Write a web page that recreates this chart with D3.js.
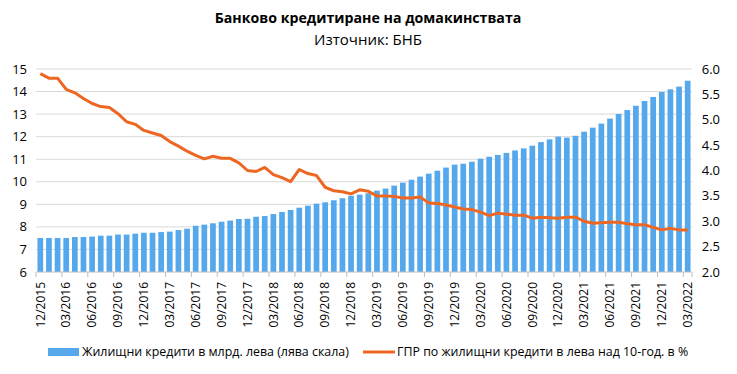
<!DOCTYPE html>
<html>
<head>
<meta charset="utf-8">
<script src="https://cdn.jsdelivr.net/npm/d3@7/dist/d3.min.js"></script>
<style>
  body { margin: 0; background: #fff; }
  text { font-family: "Open Sans", "Noto Sans", sans-serif; fill: #000; }
</style>
</head>
<body>
<svg id="chart"></svg>
<script>
// months 12/2015 .. 03/2022
var months = d3.timeMonth.range(new Date(2015, 11, 1), new Date(2022, 3, 1));

// housing loans, bn leva (left scale)
var loans = [7.51, 7.51, 7.51, 7.51, 7.55, 7.55, 7.57, 7.61, 7.61, 7.66,
             7.66, 7.70, 7.74, 7.74, 7.77, 7.79, 7.86, 7.92, 8.05, 8.10,
             8.16, 8.23, 8.28, 8.35, 8.36, 8.45, 8.48, 8.57, 8.66, 8.75,
             8.85, 8.94, 9.03, 9.09, 9.18, 9.27, 9.38, 9.43, 9.49, 9.61,
             9.70, 9.83, 9.96, 10.09, 10.23, 10.36, 10.49, 10.63, 10.76, 10.80,
             10.89, 11.02, 11.11, 11.19, 11.28, 11.39, 11.48, 11.60, 11.76, 11.88,
             12.00, 11.96, 12.04, 12.22, 12.40, 12.58, 12.80, 13.01, 13.18, 13.37,
             13.58, 13.76, 13.98, 14.10, 14.22, 14.48];

// APR on housing loans in leva over 10 years, % (right scale)
var rates = [5.91, 5.82, 5.82, 5.60, 5.53, 5.42, 5.32, 5.26, 5.24, 5.12,
             4.96, 4.91, 4.79, 4.74, 4.69, 4.57, 4.48, 4.38, 4.30, 4.23,
             4.28, 4.24, 4.24, 4.15, 4.00, 3.98, 4.06, 3.92, 3.86, 3.78,
             4.02, 3.94, 3.90, 3.67, 3.60, 3.58, 3.54, 3.62, 3.59, 3.50,
             3.50, 3.49, 3.46, 3.46, 3.48, 3.36, 3.35, 3.32, 3.28, 3.24,
             3.23, 3.18, 3.11, 3.16, 3.14, 3.12, 3.12, 3.06, 3.08, 3.07,
             3.06, 3.08, 3.08, 3.00, 2.96, 2.97, 2.98, 2.98, 2.95, 2.93,
             2.93, 2.88, 2.83, 2.86, 2.83, 2.83];

var leftTicks = [6, 7, 8, 9, 10, 11, 12, 13, 14, 15];
var rightTicks = [2.0, 2.5, 3.0, 3.5, 4.0, 4.5, 5.0, 5.5, 6.0];

var title = "Банково кредитиране на домакинствата";
var subtitle = "Източник: БНБ";
var legendBars = "Жилищни кредити в млрд. лева (лява скала)";
var legendLine = "ГПР по жилищни кредити в лева над 10-год. в %";

var width = 737, height = 374;
var margin = {top: 69, right: 45, bottom: 102, left: 36};
var plotW = width - margin.left - margin.right,
    plotH = height - margin.top - margin.bottom;

var svg = d3.select("#chart")
    .attr("width", width)
    .attr("height", height);

svg.append("text")
    .attr("x", 368).attr("y", 23)
    .attr("text-anchor", "middle")
    .style("font-size", "14.2px").style("font-weight", "bold")
    .text(title);

svg.append("text")
    .attr("x", 368).attr("y", 45)
    .attr("text-anchor", "middle")
    .style("font-size", "15px")
    .text(subtitle);

var g = svg.append("g")
    .attr("transform", "translate(" + margin.left + "," + margin.top + ")");

var x = d3.scaleBand()
    .domain(d3.range(months.length))
    .range([0, plotW])
    .paddingInner(0.34)
    .paddingOuter(0.17);

var yL = d3.scaleLinear().domain([6, 15]).range([plotH, 0]);
var yR = d3.scaleLinear().domain([2, 6]).range([plotH, 0]);

// gridlines
g.selectAll(".grid")
  .data(leftTicks.slice(1))
  .enter().append("line")
    .attr("x1", 0).attr("x2", plotW)
    .attr("y1", d => yL(d)).attr("y2", d => yL(d))
    .attr("stroke", "#d9d9d9")
    .attr("stroke-width", 1);

// left axis labels
g.selectAll(".lt")
  .data(leftTicks)
  .enter().append("text")
    .attr("x", -9)
    .attr("y", d => yL(d))
    .attr("dy", "0.35em")
    .attr("text-anchor", "end")
    .style("font-size", "13px")
    .text(d => d);

// right axis labels
g.selectAll(".rt")
  .data(rightTicks)
  .enter().append("text")
    .attr("x", plotW + 28)
    .attr("y", d => yR(d))
    .attr("dy", "0.35em")
    .attr("text-anchor", "end")
    .style("font-size", "13px")
    .text(d => d.toFixed(1));

// bars
g.selectAll(".bar")
  .data(loans)
  .enter().append("rect")
    .attr("x", (d, i) => x(i))
    .attr("width", x.bandwidth())
    .attr("y", d => yL(d))
    .attr("height", d => plotH - yL(d))
    .attr("fill", "#56a8ec");

// bottom axis line + ticks
var step = x.step();
g.append("line")
    .attr("x1", 0).attr("x2", plotW)
    .attr("y1", plotH).attr("y2", plotH)
    .attr("stroke", "#bfbfbf");

var tickIdx = d3.range(0, months.length, 3);
g.selectAll(".tk")
  .data(tickIdx.concat([months.length]))
  .enter().append("line")
    .attr("x1", d => d * step).attr("x2", d => d * step)
    .attr("y1", plotH).attr("y2", plotH + 5)
    .attr("stroke", "#bfbfbf");

var fmt = d3.timeFormat("%m/%Y");
g.selectAll(".xl")
  .data(tickIdx)
  .enter().append("text")
    .attr("transform", d => "translate(" + (x(d) + x.bandwidth() / 2) + "," + (plotH + 10) + ") rotate(-90)")
    .attr("dy", "0.35em")
    .attr("text-anchor", "end")
    .style("font-size", "12px")
    .text(d => fmt(months[d]));

// line
var line = d3.line()
    .x((d, i) => x(i) + x.bandwidth() / 2)
    .y(d => yR(d));

g.append("path")
    .datum(rates)
    .attr("d", line)
    .attr("fill", "none")
    .attr("stroke", "#ee6722")
    .attr("stroke-width", 3)
    .attr("stroke-linejoin", "round");

// legend
var leg = svg.append("g");
leg.append("rect")
    .attr("x", 48).attr("y", 348)
    .attr("width", 31).attr("height", 8)
    .attr("fill", "#56a8ec");
leg.append("text")
    .attr("x", 82).attr("y", 352)
    .attr("dy", "0.35em")
    .style("font-size", "12.4px")
    .text(legendBars);
leg.append("line")
    .attr("x1", 363).attr("x2", 395)
    .attr("y1", 352).attr("y2", 352)
    .attr("stroke", "#ee6722")
    .attr("stroke-width", 3);
leg.append("text")
    .attr("x", 397).attr("y", 352)
    .attr("dy", "0.35em")
    .style("font-size", "12.4px")
    .text(legendLine);
</script>
</body>
</html>
